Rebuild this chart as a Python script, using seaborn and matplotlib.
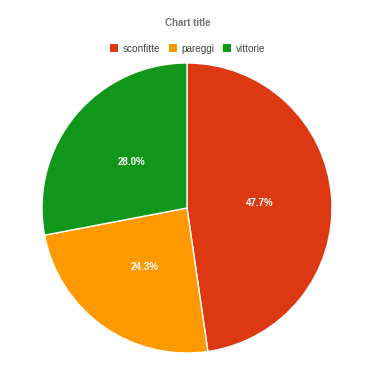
import matplotlib
matplotlib.use("Agg")
import matplotlib.pyplot as plt
import seaborn as sns
from matplotlib.patches import Patch

categories = ["sconfitte", "pareggi", "vittorie"]
values = [47.7, 24.3, 28.0]
colors = ["#dc3912", "#ff9900", "#109618"]

sns.set_theme(style="white")
plt.rcParams['font.family'] = ['Liberation Sans', 'DejaVu Sans']

fig = plt.figure(figsize=(3.75, 3.66), dpi=100)
ax = fig.add_axes([42/375, 13/366, 290/375, 290/366])
wedges, texts, autotexts = ax.pie(
    values, colors=sns.color_palette(colors), startangle=90, counterclock=False,
    autopct='%1.1f%%', pctdistance=0.5, radius=1,
    wedgeprops=dict(edgecolor='white', linewidth=1),
    textprops=dict(color='white', fontsize=7, fontweight='bold'))
ax.set_xlim(-1, 1)
ax.set_ylim(-1, 1)
ax.set_aspect('auto')
ax.axis('off')

fig.text(0.5, 1 - 23.5/366, "Chart title", ha='center', va='center',
         fontsize=7, fontweight='bold', color='#757575')
handles = [Patch(facecolor=c, edgecolor='none') for c in colors]
fig.legend(handles, categories, loc='center', bbox_to_anchor=(0.5, 1 - 48.5/366),
           ncol=3, frameon=False, fontsize=7.2, handlelength=0.8, handleheight=0.8,
           handletextpad=0.5, columnspacing=0.8, labelcolor='#444444')
fig.savefig("out.png", dpi=100)
